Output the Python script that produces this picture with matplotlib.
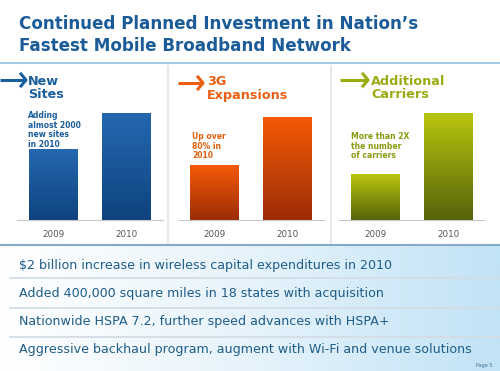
import numpy as np
import matplotlib.pyplot as plt
from matplotlib.colors import LinearSegmentedColormap

# values (relative bar heights, same scale for all panels)
years = ['2009', '2010']
new_sites = [71, 107]
g3_expansions = [55, 103]
add_carriers = [46, 107]

headings = ['New\nSites', '3G\nExpansions', 'Additional\nCarriers']
notes = ['Adding\nalmost 2000\nnew sites\nin 2010', 'Up over\n80% in\n2010',
         'More than 2X\nthe number\nof carriers']
bullets = ['$2 billion increase in wireless capital expenditures in 2010',
           'Added 400,000 square miles in 18 states with acquisition',
           'Nationwide HSPA 7.2, further speed advances with HSPA+',
           'Aggressive backhaul program, augment with Wi-Fi and venue solutions']

W, H = 500, 371
fig = plt.figure(figsize=(5, 3.71), dpi=100)
fig.patch.set_facecolor('white')

# full-page canvas in pixel coordinates
cv = fig.add_axes([0, 0, 1, 1])
cv.set_xlim(0, W)
cv.set_ylim(H, 0)
cv.axis('off')

# title
title_col = '#1b5c98'
cv.text(19, 24, 'Continued Planned Investment in Nation\u2019s', color=title_col,
        fontsize=12.1, fontweight='bold', va='center')
cv.text(19, 46, 'Fastest Mobile Broadband Network', color=title_col,
        fontsize=12.1, fontweight='bold', va='center')
cv.plot([0, W], [63, 63], color='#8fbfe0', lw=1.2)

# panel separators
for x in [168, 331]:
    cv.plot([x, x], [66, 243], color='#dfe4e8', lw=1.2)

# bottom area with gradient
grad = np.linspace(0, 1, 256).reshape(1, -1)
bg_cmap = LinearSegmentedColormap.from_list('bg', ['#ffffff', '#e6f3fb', '#c2e3f6'])
cv.imshow(grad, extent=[0, W, H, 245], aspect='auto', cmap=bg_cmap, zorder=0)
cv.plot([0, W], [245, 245], color='#86a9c6', lw=1.5, zorder=2)
for y in [278, 308, 337]:
    cv.plot([10, W], [y, y], color='#d3dde5', lw=1.3, zorder=2)
for y, t in zip([265, 293, 322, 350], bullets):
    cv.text(19, y, t, color='#1f5d88', fontsize=9.1, va='center', zorder=3)
cv.text(492, 366, 'Page 5', color='#3b6f95', fontsize=3.5, ha='right', va='center')
cv.set_xlim(0, W)
cv.set_ylim(H, 0)

# bar panels
series = [new_sites, g3_expansions, add_carriers]
centers = [53.5, 214.5, 375.5]
spacing = 73
head_col = ['#1b5e9e', '#eb5f12', '#9bab12']
note_col = ['#1b5e9e', '#e0600e', '#8a9a10']
bar_cmaps = [['#0f437f', '#2468b0'], ['#9c2c06', '#f45a06'], ['#56620a', '#b9c60e']]
arrows = [(0, 26, 80), (178, 203, 83), (340, 368, 80)]
head_x = [28, 207, 371]
note_pos = [(28, 111), (192, 132), (351, 132)]

for i in range(3):
    left = centers[i] - spacing / 2
    ax = fig.add_axes([left / W, 1 - 220 / H, 2 * spacing / W, 110 / H])
    ax.patch.set_alpha(0)
    bars = ax.bar([0, 1], series[i], width=0.66, color='none')
    cmap = LinearSegmentedColormap.from_list('b%d' % i, bar_cmaps[i])
    vgrad = np.linspace(0, 1, 256).reshape(-1, 1)
    for b in bars:
        x0, w, h = b.get_x(), b.get_width(), b.get_height()
        im = ax.imshow(vgrad, extent=[x0, x0 + w, 0, h], origin='lower',
                       aspect='auto', cmap=cmap, zorder=2)
        im.set_clip_path(b)
    ax.set_xlim(-0.5, 1.5)
    ax.set_ylim(0, 110)
    ax.set_xticks([0, 1])
    ax.set_xticklabels(years, fontsize=6.3, color='#555555')
    ax.tick_params(axis='x', length=0, pad=7)
    ax.set_yticks([])
    for s in ['top', 'left', 'right']:
        ax.spines[s].set_visible(False)
    ax.spines['bottom'].set_color('#c8c8c8')

    # heading arrow and text
    x0, x1, y = arrows[i]
    cv.plot([x0, x1], [y, y], color=head_col[i], lw=2.2, solid_capstyle='butt')
    cv.plot([x1 - 5, x1, x1 - 5], [y - 6, y, y + 6], color=head_col[i], lw=2.2)
    cv.text(head_x[i], 75, headings[i], color=head_col[i], fontsize=9.2,
            fontweight='bold', va='top', linespacing=1.05)
    nx, ny = note_pos[i]
    cv.text(nx, ny, notes[i], color=note_col[i], fontsize=5.5,
            fontweight='bold', va='top', linespacing=1.08)

fig.savefig('out.png', dpi=100)
